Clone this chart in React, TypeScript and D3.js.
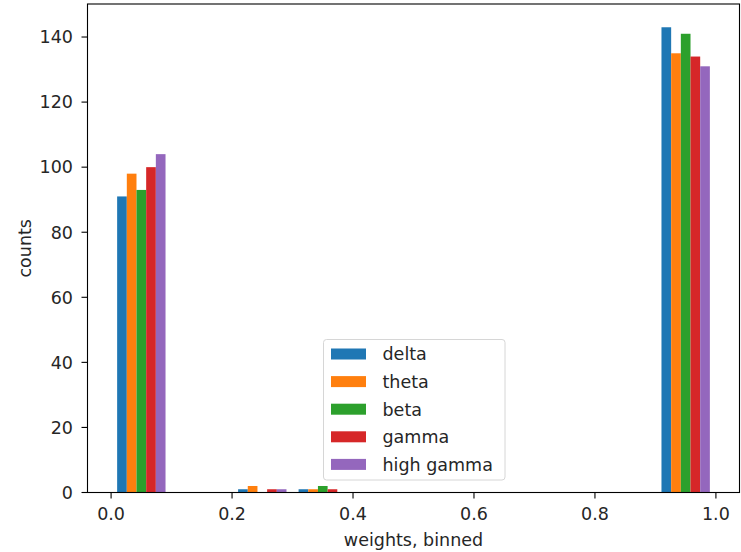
import React from "react";
import * as d3 from "d3";

// Histogram of binned weights per frequency band
const bandNames = ["delta", "theta", "beta", "gamma", "high gamma"];
const bandColors = ["#1f77b4", "#ff7f0e", "#2ca02c", "#d62728", "#9467bd"];
const binEdges = [0, 0.1, 0.2, 0.3, 0.4, 0.5, 0.6, 0.7, 0.8, 0.9, 1.0];

const deltaCounts = [91, 0, 1, 1, 0, 0, 0, 0, 0, 143];
const thetaCounts = [98, 0, 2, 1, 0, 0, 0, 0, 0, 135];
const betaCounts = [93, 0, 0, 2, 0, 0, 0, 0, 0, 141];
const gammaCounts = [100, 0, 1, 1, 0, 0, 0, 0, 0, 134];
const highGammaCounts = [104, 0, 1, 0, 0, 0, 0, 0, 0, 131];

const xTicks = [0.0, 0.2, 0.4, 0.6, 0.8, 1.0];
const yTicks = [0, 20, 40, 60, 80, 100, 120, 140];

const W = 741;
const H = 552;
const plot = { left: 87.5, right: 739.5, top: 4, bottom: 492.5 };
const FONT = "'DejaVu Sans', sans-serif";
const FS = 17.5;
const TEXT = "#262626";

export default function App() {
  const seriesCounts = [deltaCounts, thetaCounts, betaCounts, gammaCounts, highGammaCounts];
  const nSeries = seriesCounts.length;

  const x = d3.scaleLinear().domain([-0.039, 1.039]).range([plot.left, plot.right]);
  const maxCount = d3.max(seriesCounts.flat()) as number;
  const y = d3.scaleLinear().domain([0, maxCount * 1.05]).range([plot.bottom, plot.top]);

  const bars: React.ReactElement[] = [];
  seriesCounts.forEach((counts, s) => {
    counts.forEach((c, b) => {
      if (c <= 0) return;
      const lo = binEdges[b];
      const hi = binEdges[b + 1];
      const bw = hi - lo;
      const barW = (bw * 0.8) / nSeries;
      const x0 = lo + bw * 0.1 + s * barW;
      const px0 = x(x0);
      const px1 = x(x0 + barW);
      bars.push(
        <rect
          key={`${s}-${b}`}
          x={px0}
          y={y(c)}
          width={px1 - px0}
          height={y(0) - y(c)}
          fill={bandColors[s]}
        />
      );
    });
  });

  const legend = { x: 323.5, y: 339.5, w: 181.5, h: 140.5 };
  const rowH = 27.6;

  return (
    <svg
      width={W}
      height={H}
      style={{ position: "absolute", left: 0, top: 0, background: "#fff" }}
      fontFamily={FONT}
    >
      <rect x={0} y={0} width={W} height={H} fill="#fff" />
      {bars}

      {/* y axis ticks */}
      {yTicks.map((t) => (
        <g key={`y${t}`}>
          <line x1={plot.left - 6} x2={plot.left} y1={y(t)} y2={y(t)} stroke="#000" strokeWidth={1.1} />
          <text x={plot.left - 14.5} y={y(t)} dy="0.36em" textAnchor="end" fontSize={FS} fill={TEXT}>
            {t}
          </text>
        </g>
      ))}

      {/* x axis ticks */}
      {xTicks.map((t) => (
        <g key={`x${t}`}>
          <line x1={x(t)} x2={x(t)} y1={plot.bottom} y2={plot.bottom + 6} stroke="#000" strokeWidth={1.1} />
          <text x={x(t)} y={519.5} textAnchor="middle" fontSize={FS} fill={TEXT}>
            {t.toFixed(1)}
          </text>
        </g>
      ))}

      {/* frame */}
      <rect
        x={plot.left}
        y={plot.top}
        width={plot.right - plot.left}
        height={plot.bottom - plot.top}
        fill="none"
        stroke="#000"
        strokeWidth={1.1}
      />

      {/* axis labels */}
      <text x={(plot.left + plot.right) / 2} y={545.5} textAnchor="middle" fontSize={FS} fill={TEXT}>
        weights, binned
      </text>
      <text
        transform={`translate(31, ${(plot.top + plot.bottom) / 2}) rotate(-90)`}
        textAnchor="middle"
        fontSize={FS}
        fill={TEXT}
      >
        counts
      </text>

      {/* legend */}
      <rect
        x={legend.x}
        y={legend.y}
        width={legend.w}
        height={legend.h}
        rx={3}
        fill="#fff"
        fillOpacity={0.8}
        stroke="#d6d6d6"
        strokeWidth={1}
      />
      {bandNames.map((name, i) => {
        const cy = legend.y + 14.5 + i * rowH;
        return (
          <g key={name}>
            <rect x={331} y={cy - 5.5} width={35} height={11} fill={bandColors[i]} />
            <text x={382.5} y={cy} dy="0.36em" fontSize={FS} fill={TEXT}>
              {name}
            </text>
          </g>
        );
      })}
    </svg>
  );
}
